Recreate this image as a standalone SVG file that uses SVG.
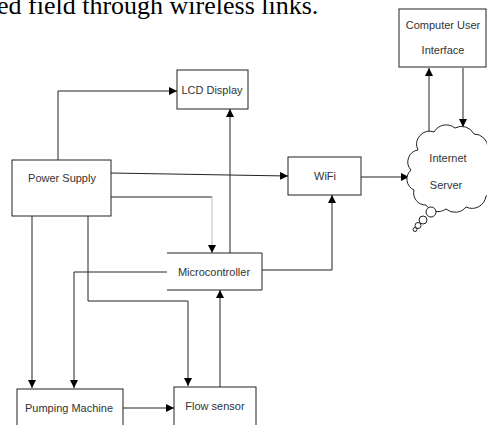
<svg xmlns="http://www.w3.org/2000/svg" width="487" height="425" viewBox="0 0 487 425">
<style>
.box{fill:#fff;stroke:#222;stroke-width:1}
.lbl{font-family:"Liberation Sans",Arial,sans-serif;font-size:11px;fill:#333;text-anchor:middle}
.ln{fill:none;stroke:#222;stroke-width:1}
.faint{fill:none;stroke:#bbb;stroke-width:1}
.top{font-family:"Liberation Serif","Times New Roman",serif;font-size:26px;fill:#000}
</style>
<defs>
<marker id="ah" viewBox="0 0 10 10" refX="10" refY="5" markerWidth="8" markerHeight="8" markerUnits="userSpaceOnUse" orient="auto">
<path d="M0,0 L10,5 L0,10 z" fill="#000"/>
</marker>
</defs>
<rect width="487" height="425" fill="#fff"/>
<text class="top" x="-3" y="14">ed field through wireless links.</text>

<g id="connectors">
<path class="ln" d="M58 160 V91 H177" marker-end="url(#ah)"/>
<path class="ln" d="M111 173 L288 176" marker-end="url(#ah)"/>
<path class="ln" d="M111 197 H212"/>
<path class="faint" d="M212 197 V253" marker-end="url(#ah)"/>
<path class="ln" d="M32 216 V388" marker-end="url(#ah)"/>
<path class="ln" d="M88 216 V301 H188 V386" marker-end="url(#ah)"/>
<path class="ln" d="M230 253 V109" marker-end="url(#ah)"/>
<path class="ln" d="M262 270 H332 V195" marker-end="url(#ah)"/>
<path class="ln" d="M167 272 H74 V388" marker-end="url(#ah)"/>
<path class="ln" d="M220 387 V290" marker-end="url(#ah)"/>
<path class="ln" d="M123 408 H174" marker-end="url(#ah)"/>
<path class="ln" d="M361 177 H409" marker-end="url(#ah)"/>
<path class="ln" d="M429 135 V68" marker-end="url(#ah)"/>
<path class="ln" d="M463 68 V127" marker-end="url(#ah)"/>
</g>

<g id="computer">
<rect class="box" x="399" y="9" width="87" height="58"/>
<text class="lbl" x="443" y="29">Computer User</text>
<text class="lbl" x="443" y="54">Interface</text>
</g>
<g id="lcd">
<rect class="box" x="177" y="70" width="71" height="39"/>
<text class="lbl" x="212" y="94">LCD Display</text>
</g>
<g id="power">
<rect class="box" x="12" y="160" width="99" height="56"/>
<text class="lbl" x="62" y="182">Power Supply</text>
</g>
<g id="wifi">
<rect class="box" x="288" y="157" width="73" height="38"/>
<text class="lbl" x="325" y="180">WiFi</text>
</g>
<g id="server">
<path class="box" d="M418 150 A13 13 0 0 1 434 132 A14 14 0 0 1 455 128 A14 14 0 0 1 474 134 A14 14 0 0 1 488 148 A14 14 0 0 1 492 172 A14 14 0 0 1 486 196 A14 14 0 0 1 466 207 A14 14 0 0 1 446 209 A14 14 0 0 1 426 205 A12 12 0 0 1 414 190 A12 12 0 0 1 411 170 A12 12 0 0 1 418 150 Z"/>
<circle class="box" cx="431" cy="212" r="5"/>
<circle class="box" cx="423" cy="220" r="4"/>
<circle class="box" cx="418" cy="225.5" r="3"/>
<circle class="box" cx="415" cy="229.5" r="2"/>
<text class="lbl" x="448" y="162">Internet</text>
<text class="lbl" x="446" y="189">Server</text>
</g>
<g id="microcontroller">
<path class="ln" d="M167 253 H262 V290 H167"/>
<text class="lbl" x="214" y="276">Microcontroller</text>
</g>
<g id="pumping">
<rect class="box" x="17" y="389" width="106" height="42"/>
<text class="lbl" x="69" y="412">Pumping Machine</text>
</g>
<g id="flow">
<rect class="box" x="174" y="387" width="82" height="44"/>
<text class="lbl" x="215" y="410">Flow sensor</text>
</g>
</svg>
